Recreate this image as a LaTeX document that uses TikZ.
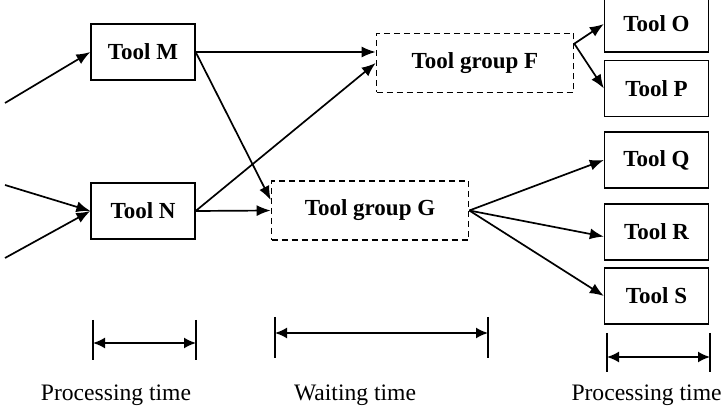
\documentclass[tikz,border=0pt]{standalone}
\usepackage{fontspec}
\setmainfont{Liberation Serif}
\usetikzlibrary{arrows.meta}

\begin{document}
\begin{tikzpicture}[x=0.5pt,y=-0.5pt,
    tool/.style={rectangle,draw,line width=0.65pt,minimum width=52pt,minimum height=28pt,
      inner sep=0pt,font=\fontsize{11.5}{13}\selectfont\bfseries},
    group/.style={tool,densely dashed,line width=0.8pt,minimum width=98.5pt,minimum height=29.5pt},
    flow/.style={line width=0.85pt,-{Latex[length=7pt,width=5.5pt]}},
    span/.style={line width=0.85pt,{Latex[length=6pt,width=5.5pt]}-{Latex[length=6pt,width=5.5pt]}},
    bar/.style={line width=0.9pt},
    caption/.style={font=\fontsize{11.8}{14}\selectfont}]

    \useasboundingbox (0,0) rectangle (723,411);

    % Tools of the first step
    \node[tool] (M) at (143,52)  {Tool M};
    \node[tool] (N) at (143,211) {Tool N};

    % Tool groups
    \node[group] (F) at (475,63)  {Tool group F};
    \node[group] (G) at (370,210.5) {Tool group G};

    % Tools of the next step
    \node[tool] (O) at (656.5,24)   {Tool O};
    \node[tool] (P) at (656.5,88.5) {Tool P};
    \node[tool] (Q) at (656.5,160)  {Tool Q};
    \node[tool] (R) at (656.5,232)  {Tool R};
    \node[tool] (S) at (656.5,296)  {Tool S};

    % Incoming lots
    \coordinate (in1) at (5,103);
    \coordinate (in2) at (5,185);
    \coordinate (in3) at (5,258);
    \draw[flow] (in1) -- (M.west);
    \draw[flow] (in2) -- (N.west);
    \draw[flow] (in3) -- (N.west);

    % Edges between steps
    \draw[flow] (M.east) -- (M.east -| F.west);
    \draw[flow] (N.east) -- (F.west);
    \draw[flow] (M.east) -- (G.174);
    \draw[flow] (N.east) -- (G.west);
    \draw[flow] (F.11) -- (O.west);
    \draw[flow] (F.11) -- (P.west);
    \foreach \w/\a in {Q/180,R/185,S/180} {
      \draw[flow] (G.east) -- (\w.\a);
    }

    % Time spans
    \coordinate (p1a) at (93,343);  \coordinate (p1b) at (196,343);
    \coordinate (wa)  at (275,333); \coordinate (wb)  at (488,333);
    \coordinate (p2a) at (607,357); \coordinate (p2b) at (710,357);
    \foreach \c/\t/\b in {p1a/320/360,p1b/320/360,wa/317/358,wb/317/358,p2a/333/372,p2b/333/372} {
      \draw[bar] (\c |- 0,\t) -- (\c |- 0,\b);
    }
    \draw[span] (p1a) -- (p1b);
    \draw[span] (wa) -- (wb);
    \draw[span] (p2a) -- (p2b);

    % Labels
    \node[caption] (lp1) at (116,395) {Processing time};
    \node[caption] (lw)  at (355,395) {Waiting time};
    \node[caption,anchor=east,inner sep=0pt] (lp2) at (722,395) {Processing time};

  \end{tikzpicture}
\end{document}
